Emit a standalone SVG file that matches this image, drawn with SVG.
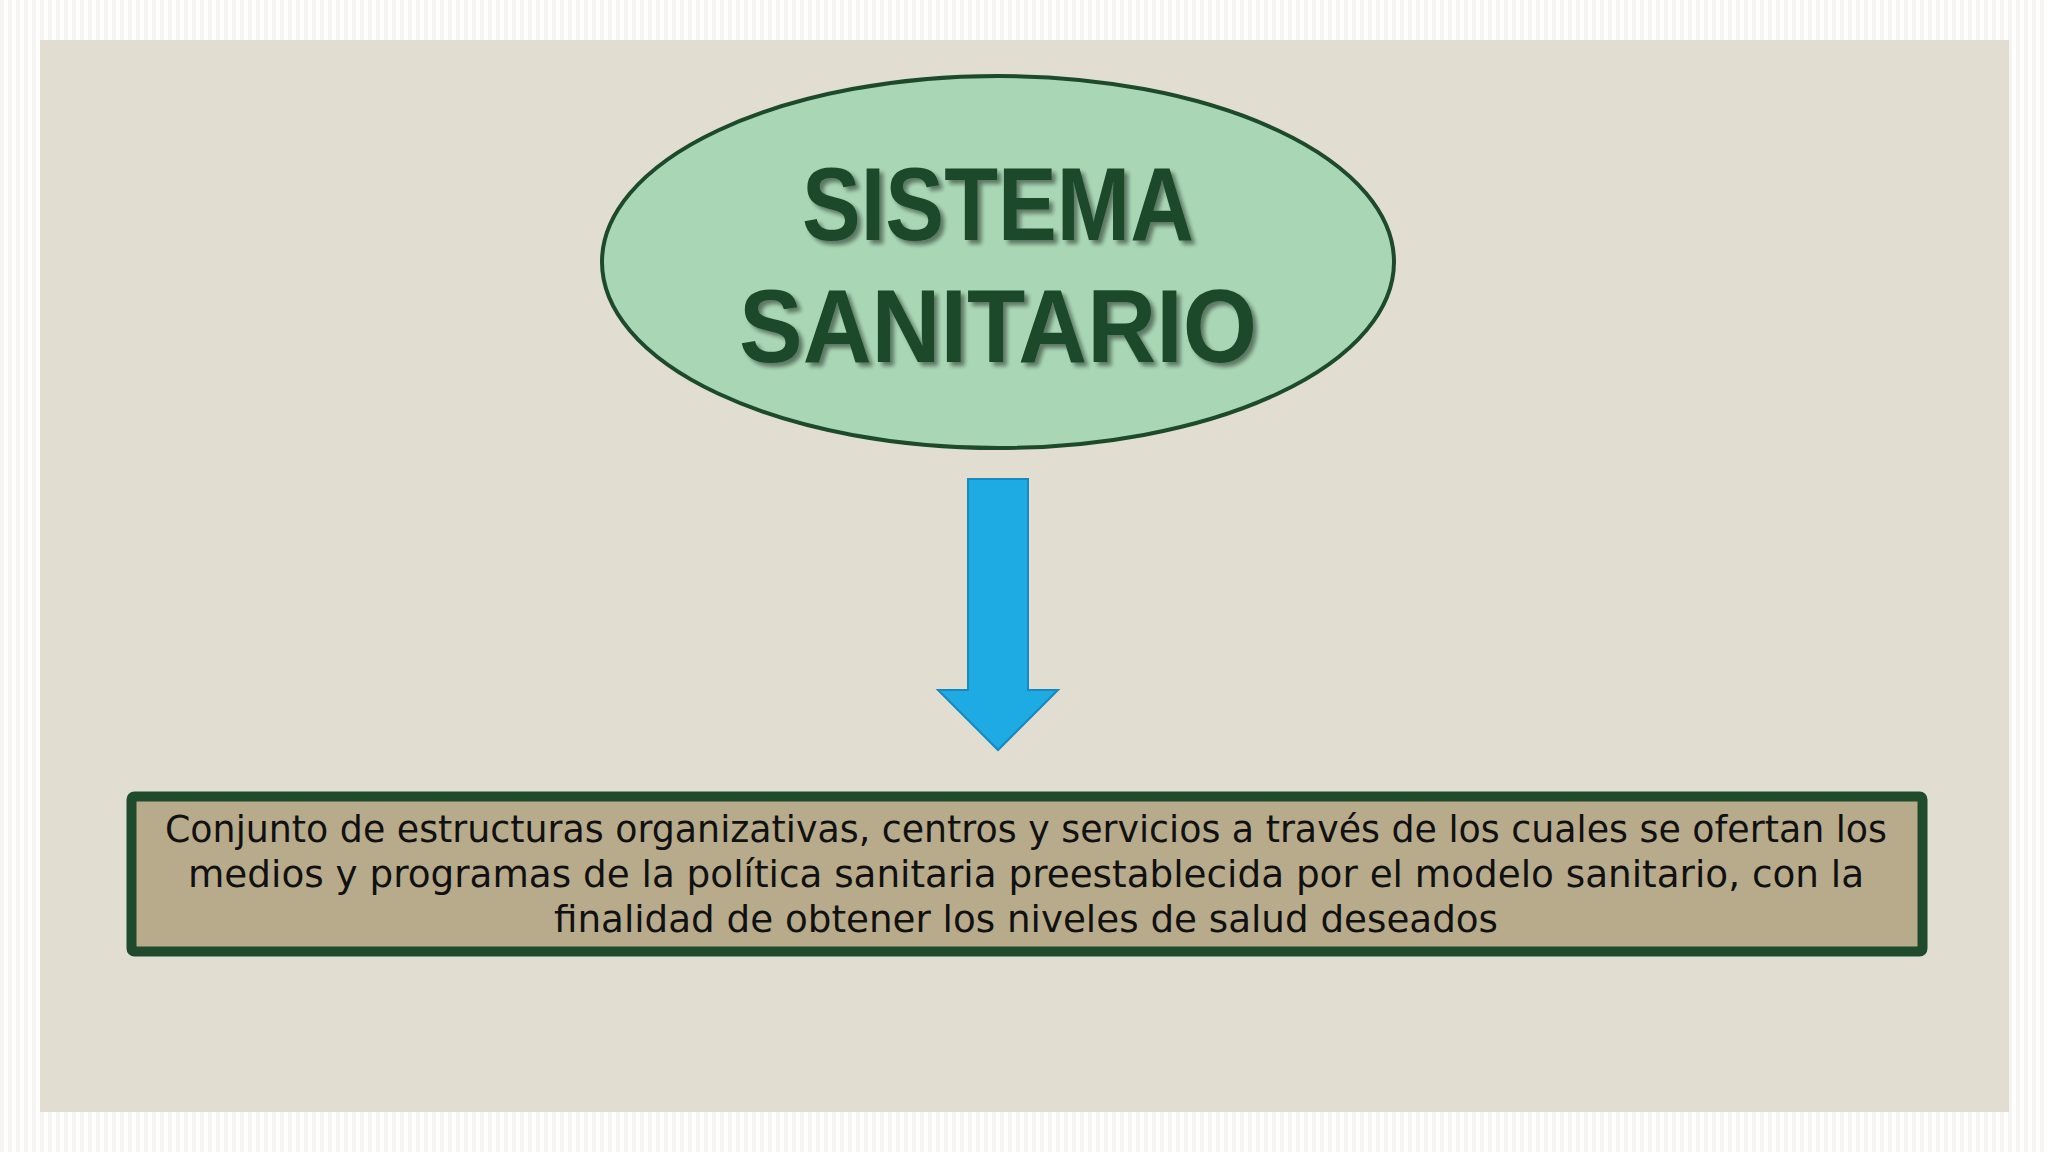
<svg xmlns="http://www.w3.org/2000/svg" width="2048" height="1152" viewBox="0 0 2048 1152">
  <defs>
    <pattern id="stripes" x="0" y="0" width="8" height="8" patternUnits="userSpaceOnUse">
      <rect width="8" height="8" fill="#ffffff"/>
      <rect x="0" width="4" height="8" fill="#f5f4f2"/>
    </pattern>
    <filter id="tshadow" x="-10%" y="-20%" width="130%" height="150%">
      <feGaussianBlur in="SourceAlpha" stdDeviation="2"/>
      <feOffset dx="4" dy="4" result="b"/>
      <feComponentTransfer><feFuncA type="linear" slope="0.45"/></feComponentTransfer>
      <feMerge><feMergeNode/><feMergeNode in="SourceGraphic"/></feMerge>
    </filter>
    <style>
      .title { font-family: "Liberation Sans", Arial, sans-serif; font-weight: bold; font-size: 104px; fill: #1d4a2b; text-anchor: middle; }
      .body { font-family: "DejaVu Sans", "Liberation Sans", sans-serif; font-size: 38px; fill: #111111; text-anchor: middle; }
    </style>
  </defs>

  <rect x="0" y="0" width="2048" height="1152" fill="url(#stripes)"/>
  <rect x="40" y="40" width="1969" height="1072" fill="#e2ddd1"/>

  <g id="node-sistema">
    <ellipse cx="998" cy="262" rx="396" ry="186" fill="#a9d7b5" stroke="#1e4a2c" stroke-width="4"/>
    <g filter="url(#tshadow)">
      <text class="title" x="998" y="240" textLength="392" lengthAdjust="spacingAndGlyphs">SISTEMA</text>
      <text class="title" x="998" y="362" textLength="518" lengthAdjust="spacingAndGlyphs">SANITARIO</text>
    </g>
  </g>

  <g id="connectors">
    <polygon points="968,479 1028,479 1028,690 1058,690 998,750 938,690 968,690" fill="#1eaae2" stroke="#1689bf" stroke-width="2" stroke-linejoin="miter"/>
  </g>

  <g id="node-definicion">
    <rect x="131.5" y="796.5" width="1791" height="155" rx="3" fill="#b8ab8b" stroke="#1f4a2c" stroke-width="10"/>
    <text class="body" x="1026" y="842" textLength="1722" lengthAdjust="spacingAndGlyphs">Conjunto de estructuras organizativas, centros y servicios a través de los cuales se ofertan los</text>
    <text class="body" x="1026" y="887" textLength="1676" lengthAdjust="spacingAndGlyphs">medios y programas de la política sanitaria preestablecida por el modelo sanitario, con la</text>
    <text class="body" x="1026" y="932" textLength="944" lengthAdjust="spacingAndGlyphs">finalidad de obtener los niveles de salud deseados</text>
  </g>
</svg>
